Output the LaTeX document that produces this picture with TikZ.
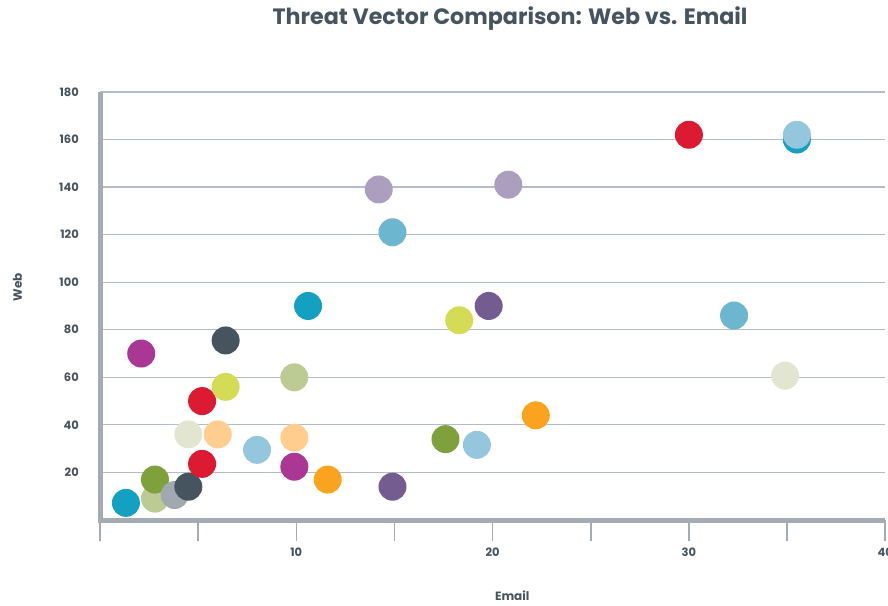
\documentclass[tikz,border=0pt]{standalone}
\usepackage{fontspec}
\setmainfont{Poppins}
\usetikzlibrary{positioning}
\definecolor{Slate}{RGB}{69,84,95}
\definecolor{AxisGray}{RGB}{163,172,181}
\definecolor{GridGray}{RGB}{180,189,199}
\definecolor{Teal}{RGB}{20,160,192}
\definecolor{PaleGreen}{RGB}{188,203,148}
\definecolor{Olive}{RGB}{126,161,60}
\definecolor{Stone}{RGB}{160,168,176}
\definecolor{Crimson}{RGB}{220,26,50}
\definecolor{Beige}{RGB}{226,230,208}
\definecolor{Peach}{RGB}{255,206,142}
\definecolor{Lime}{RGB}{212,220,86}
\definecolor{Magenta}{RGB}{170,55,148}
\definecolor{SkyBlue}{RGB}{148,198,222}
\definecolor{Orange}{RGB}{249,163,30}
\definecolor{Purple}{RGB}{115,92,144}
\definecolor{Lavender}{RGB}{172,158,190}
\definecolor{Steel}{RGB}{108,182,208}
\tikzset{
  dot/.style={circle,inner sep=0pt,minimum size=28pt},
  ticklabel/.style={font=\fontsize{11.5}{13}\selectfont\bfseries,text=Slate},
  axislabel/.style={font=\fontsize{12}{14}\selectfont\bfseries,text=Slate}
}

\begin{document}
\begin{tikzpicture}[x=1pt,y=1pt]
  \useasboundingbox (0,0) rectangle (888,605);
  \node[font=\fontsize{22.2}{26}\selectfont\bfseries,text=Slate] (title) at (510,586) {Threat Vector Comparison: Web vs. Email};
  \begin{scope}[shift={(100,85)},x=19.63pt,y=2.378pt]
    % grid and y labels
    \foreach \w in {20,40,...,180} {
      \draw[GridGray,line width=1.2pt] (0,\w) -- (40,\w);
      \node[ticklabel,anchor=east] (yl\w) at (-0.9,\w) {\w};
    }
    % ticks and x labels
    \foreach \e in {0,5,...,40}
      \draw[AxisGray,line width=1.5pt] (\e,0) -- (\e,-9);
    \foreach \e in {10,20,30,40}
      \node[ticklabel] (xl\e) at (\e,-13.5) {\e};
    % axes
    \draw[AxisGray,line width=5pt] (0.05,180) -- (0.05,0) -- (40,0);
    \node[axislabel,rotate=90] (ylabel) at (-4.2,98) {Web};
    \node[axislabel] (xlabel) at (21,-32) {Email};
    % points
    \foreach \e/\w/\c [count=\i] in {
        1.32/7.2/Teal, 2.8/9/PaleGreen, 2.8/17/Olive, 3.8/10.5/Stone,
        4.5/14/Slate, 5.2/23.6/Crimson, 4.5/36/Beige, 6.0/36/Peach,
        5.2/50/Crimson, 6.4/56/Lime, 2.1/70/Magenta, 6.4/75.5/Slate,
        8.0/29.5/SkyBlue, 9.9/34.6/Peach, 9.9/22.4/Magenta, 9.9/60/PaleGreen,
        10.6/90/Teal, 11.6/17/Orange, 14.9/14/Purple, 14.2/139/Lavender,
        14.9/121/Steel, 17.6/34/Olive, 19.2/31.6/SkyBlue, 18.3/84/Lime,
        19.8/90/Purple, 20.8/141/Lavender, 22.2/44/Orange, 30.0/162/Crimson,
        35.5/160/Teal, 35.5/162/SkyBlue, 32.3/86/Steel, 34.9/60.7/Beige}
      \node[dot,fill=\c] (p\i) at (\e,\w) {};
  \end{scope}
\end{tikzpicture}
\end{document}
